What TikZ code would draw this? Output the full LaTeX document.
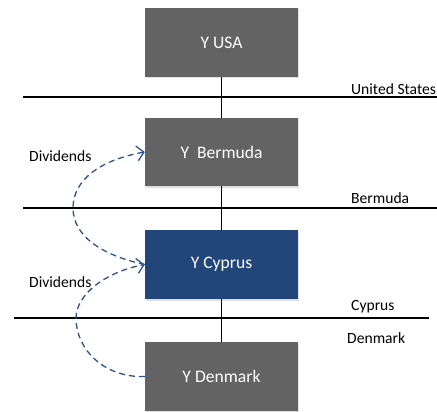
\documentclass[tikz,border=0pt]{standalone}
\usepackage{fontspec}
\setmainfont{Carlito}
\usetikzlibrary{arrows.meta,shadows}
\definecolor{entgray}{HTML}{636363}
\definecolor{entblue}{HTML}{22457A}
\definecolor{flowblue}{HTML}{2F5290}
\tikzset{
  entity/.style={fill=entgray, minimum width=153pt, minimum height=69pt,
    inner sep=0pt, text=white, font=\fontsize{17.6}{20}\selectfont,
    drop shadow={opacity=0.25, shadow xshift=1pt, shadow yshift=-1.5pt}},
  border/.style={line width=1.5pt, black},
  tie/.style={line width=1.5pt, black},
  country/.style={anchor=west, inner sep=0pt, font=\fontsize{15.6}{18}\selectfont},
  flow/.style={flowblue, line width=1.3pt, dash pattern=on 6pt off 4pt,
    -{Straight Barb[length=7pt,width=15pt,line width=1.3pt]}},
  flowlabel/.style={anchor=west, inner sep=0pt, font=\fontsize{15.6}{18}\selectfont}
}
\begin{document}
\begin{tikzpicture}[x=1pt,y=-1pt]
\useasboundingbox (0,0) rectangle (437,412);

% entities
\node[entity] (usa) at (221.5,42.5) {Y USA};
\node[entity, minimum height=68pt] (ber) at (221.5,152) {Y\ \ Bermuda};
\node[entity, fill=entblue] (cyp) at (221.5,264.5) {Y Cyprus};
\node[entity] (den) at (221.5,376.5) {Y Denmark};

% ownership ties
\draw[tie] (usa.south) -- (ber.north);
\draw[tie] (ber.south) -- (cyp.north);
\draw[tie] (cyp.south) -- (den.north);

% jurisdiction borders
\coordinate (b1l) at (23,97);  \coordinate (b1r) at (437,97);
\coordinate (b2l) at (23,208); \coordinate (b2r) at (437,208);
\coordinate (b3l) at (14,318); \coordinate (b3r) at (429,318);
\draw[border] (b1l) -- (b1r);
\draw[border] (b2l) -- (b2r);
\draw[border] (b3l) -- (b3r);

% country names
\node[country] (lus) at (351,89) {United States};
\node[country] (lbe) at (351,198) {Bermuda};
\node[country] (lcy) at (351,307) {Cyprus};
\node[country] (lde) at (347,338) {Denmark};

% dividend flows
\draw[flow] (cyp.west) .. controls (100,255) and (73,235) .. (73,208)
  .. controls (73,180) and (100,160) .. (ber.west);
\draw[flow] (den.west) .. controls (105,378) and (76,350) .. (76,318)
  .. controls (76,295) and (105,272) .. (cyp.west);

\node[flowlabel] (d1) at (29,156) {Dividends};
\node[flowlabel] (d2) at (29,282) {Dividends};
\end{tikzpicture}
\end{document}
